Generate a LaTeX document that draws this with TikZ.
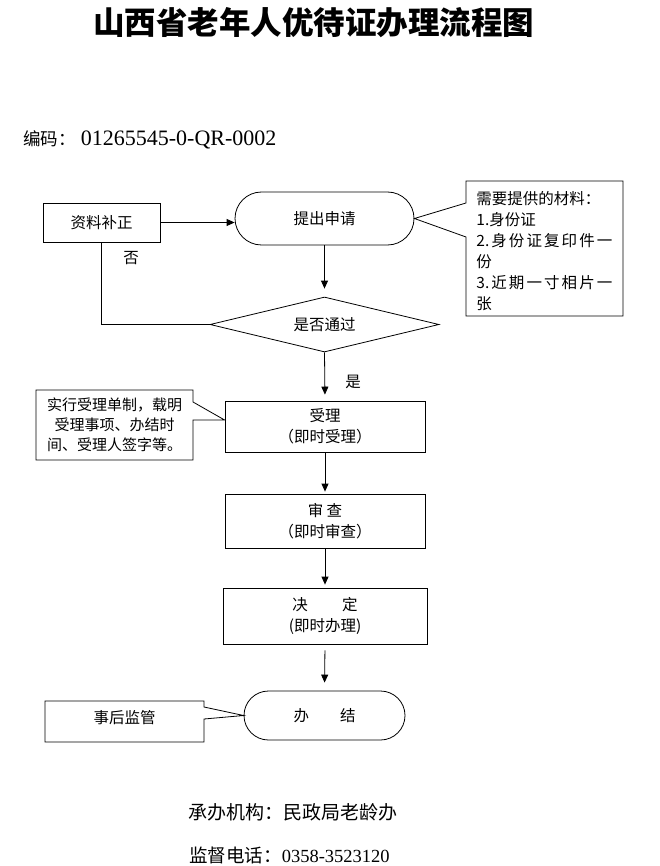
\documentclass[tikz,border=0pt]{standalone}
\usepackage{fontspec}
\setmainfont{Liberation Serif}
\newfontfamily\cjk{Noto Sans CJK SC}
\usetikzlibrary{arrows.meta,shapes.misc,shapes.geometric}
\newcommand{\spreadline}[1]{\makebox[136pt][s]{#1}}
\begin{document}
\begin{tikzpicture}[x=1pt,y=-1pt,
  line width=0.8pt,
  >={Triangle[length=8pt,width=7pt]},
  txt/.style={font=\cjk\fontsize{15.5}{21}\selectfont, inner sep=0pt, align=center},
  box/.style={txt, draw, rectangle},
  pill/.style={txt, draw, rounded rectangle},
  dia/.style={txt, draw, diamond, aspect=4.16}]
\useasboundingbox (0,0) rectangle (659,866);

% title and header
\node[font=\cjk\bfseries\fontsize{31.5}{31.5}\selectfont, inner sep=0pt] (title) at (313.5,23) {山西省老年人优待证办理流程图};
\node[font=\fontsize{17.5}{17.5}\selectfont, inner sep=0pt, anchor=west] (code) at (23,140) {{\cjk 编码：}\hspace{5pt}{\fontsize{22}{22}\selectfont 01265545-0-QR-0002}};

% main flow
\node[box, minimum width=117pt, minimum height=39pt] (fix) at (101.5,222.5) {\raisebox{2pt}{资料补正}};
\node[pill, minimum width=179pt, minimum height=53pt] (apply) at (324.5,218.5) {\raisebox{1pt}{提出申请}};
\node[dia, minimum width=229pt, minimum height=55pt] (pass) at (324.5,324.5) {是否通过};
\node[box, minimum width=200pt, minimum height=51pt] (accept) at (325,426.5) {受理\\（即时受理）};
\node[box, minimum width=200pt, minimum height=54pt] (review) at (325,521) {审\ 查\\（即时审查）};
\node[box, minimum width=204pt, minimum height=56pt] (decide) at (325,616) {决\hspace{2.2em}定\\(即时办理)};
\node[pill, minimum width=161pt, minimum height=49pt] (done) at (324.5,715.5) {\raisebox{2pt}{办\hspace{2em}结}};

% connectors
\draw[->] (fix.east) -- (fix.east -| apply.west);
\draw[->, shorten >=8pt] (apply.south) -- (pass.north);
\draw (fix.south) |- (pass.west);
\draw[->, shorten >=6pt] (pass.south) -- (accept.north);
\draw[->, shorten >=2pt] (accept.south) -- (review.north);
\draw[->, shorten >=3pt] (review.south) -- (decide.north);
\draw[->, shorten <=6pt, shorten >=8pt] (decide.south) -- (done.north);

\node[txt] (no) at (131,258) {否};
\node[txt] (yes) at (353,382) {是};

% callout: materials
\draw (466,181) -- (623,181) -- (623,316) -- (466,316) -- (466,237) -- (apply.east) -- (466,203) -- cycle;
\node[txt, align=left, anchor=west] (note) at (476,251) {需要提供的材料：\\1.身份证\\\spreadline{2.\hfill 身\hfill 份\hfill 证\hfill 复\hfill 印\hfill 件\hfill 一}\\份\\\spreadline{3.\hfill 近\hfill 期\hfill 一\hfill 寸\hfill 相\hfill 片\hfill 一}\\张};

% callout: acceptance
\coordinate (tipA) at ([yshift=6.5pt]accept.west);
\draw (36,390) -- (193,390) -- (193,402) -- (tipA) -- (193,420) -- (193,460) -- (36,460) -- cycle;
\node[txt, font=\cjk\fontsize{15}{20}\selectfont] (accnote) at (114.5,425) {实行受理单制，载明\\受理事项、办结时\\间、受理人签字等。};

% callout: supervision
\draw (45,701) -- (204,701) -- (204,707) -- (done.west) -- (204,719) -- (204,742) -- (45,742) -- cycle;
\node[txt] (super) at (124.5,718) {事后监管};

% footer
\node[font=\cjk\fontsize{19}{19}\selectfont, inner sep=0pt] (org) at (292.5,812) {承办机构：民政局老龄办};
\node[font=\fontsize{18.5}{18.5}\selectfont, inner sep=0pt] (tel) at (289.5,855) {{\cjk 监督电话：}0358-3523120};
\end{tikzpicture}
\end{document}
